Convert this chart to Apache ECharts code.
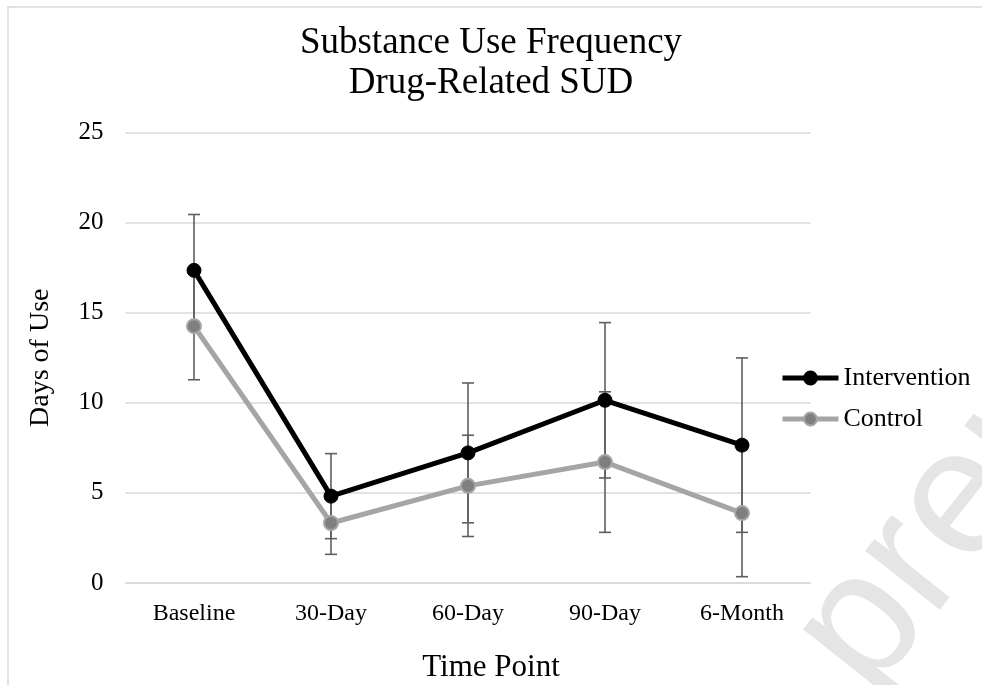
<!DOCTYPE html>
<html>
<head>
<meta charset="utf-8">
<title>Substance Use Frequency - Drug-Related SUD</title>
<script src="https://cdn.jsdelivr.net/npm/echarts@6/dist/echarts.min.js"></script>
<style>
  html, body { margin: 0; padding: 0; background: #ffffff; }
  #chart { width: 982px; height: 685px; }
</style>
</head>
<body>
<div id="chart"></div>
<script>
// Time points and mean days of use, with error bar half-widths
const timePoints = ['Baseline', '30-Day', '60-Day', '90-Day', '6-Month'];
const interventionMean = [17.35, 4.82, 7.22, 10.14, 7.65];
const interventionErr = [3.1, 2.36, 3.88, 4.31, 4.84];
const controlMean = [14.25, 3.33, 5.39, 6.71, 3.88];
const controlErr = [2.97, 1.74, 2.81, 3.9, 3.53];
const yTicks = [0, 5, 10, 15, 20, 25];

const serif = '"Liberation Serif", "DejaVu Serif", serif';

function errorData(means, errs) {
  return means.map((m, i) => [i, m, errs[i]]);
}

// Vertical whisker with caps, drawn through the axis scales
function renderErrorBar(params, api) {
  const i = api.value(0);
  const m = api.value(1);
  const e = api.value(2);
  const top = api.coord([i, m + e]);
  const bot = api.coord([i, m - e]);
  const half = 6;
  const style = { stroke: '#5f5f5f', lineWidth: 1.6 };
  return {
    type: 'group',
    children: [
      { type: 'line', shape: { x1: top[0], y1: top[1], x2: bot[0], y2: bot[1] }, style },
      { type: 'line', shape: { x1: top[0] - half, y1: top[1], x2: top[0] + half, y2: top[1] }, style },
      { type: 'line', shape: { x1: bot[0] - half, y1: bot[1], x2: bot[0] + half, y2: bot[1] }, style }
    ]
  };
}

const chart = echarts.init(document.getElementById('chart'), null, { renderer: 'canvas' });

chart.setOption({
  animation: false,
  backgroundColor: '#ffffff',
  title: {
    text: 'Substance Use Frequency\nDrug-Related SUD',
    left: 'center',
    top: 18,
    textStyle: {
      fontFamily: serif,
      fontSize: 37,
      fontWeight: 'normal',
      color: '#000000',
      lineHeight: 40
    }
  },
  graphic: [
    {
      type: 'rect',
      z: -10,
      shape: { x: 8, y: 7, width: 1100, height: 800 },
      style: { fill: 'none', stroke: '#d9d9d9', lineWidth: 1.5 }
    },
    {
      type: 'text',
      z: -20,
      x: 831,
      y: 667,
      rotation: 0.9,
      style: {
        text: 'preprint',
        font: '180px "Liberation Sans", sans-serif',
        fill: '#e5e5e5',
        textAlign: 'left',
        textVerticalAlign: 'middle'
      }
    },
    {
      type: 'text',
      left: 'center',
      top: 652,
      style: {
        text: 'Time Point',
        font: '31px "Liberation Serif", serif',
        fill: '#000000'
      }
    }
  ],
  legend: {
    orient: 'vertical',
    left: 775,
    top: 360,
    itemWidth: 56,
    itemHeight: 16,
    itemGap: 15,
    lineStyle: { width: 5 },
    textStyle: { fontFamily: serif, fontSize: 26, color: '#000000' },
    data: ['Intervention', 'Control']
  },
  grid: {
    left: 125.5, right: 171.5, top: 132.5, bottom: 102,
    containLabel: false,
    outerBoundsMode: 'none'
  },
  xAxis: {
    type: 'category',
    data: timePoints,
    boundaryGap: true,
    axisLine: { show: true, lineStyle: { color: '#d9d9d9', width: 1.5 } },
    axisTick: { show: false },
    axisLabel: { fontFamily: serif, fontSize: 24, color: '#000000', margin: 19 }
  },
  yAxis: {
    type: 'value',
    min: yTicks[0],
    max: yTicks[yTicks.length - 1],
    interval: 5,
    name: 'Days of Use',
    nameLocation: 'middle',
    nameGap: 71,
    nameTextStyle: { fontFamily: serif, fontSize: 28, color: '#000000' },
    axisLine: { show: false },
    axisTick: { show: false },
    splitLine: { lineStyle: { color: '#d9d9d9', width: 1.5 } },
    axisLabel: { fontFamily: serif, fontSize: 25, color: '#000000', margin: 22 }
  },
  series: [
    {
      name: 'Intervention errors',
      type: 'custom',
      renderItem: renderErrorBar,
      encode: { x: 0, y: 1 },
      data: errorData(interventionMean, interventionErr),
      z: 1,
      silent: true
    },
    {
      name: 'Control errors',
      type: 'custom',
      renderItem: renderErrorBar,
      encode: { x: 0, y: 1 },
      data: errorData(controlMean, controlErr),
      z: 1,
      silent: true
    },
    {
      name: 'Control',
      type: 'line',
      data: controlMean,
      z: 3,
      symbol: 'circle',
      symbolSize: 14,
      lineStyle: { color: '#a5a5a5', width: 5 },
      itemStyle: { color: '#7f7f7f', borderColor: '#a5a5a5', borderWidth: 2 }
    },
    {
      name: 'Intervention',
      type: 'line',
      data: interventionMean,
      z: 4,
      symbol: 'circle',
      symbolSize: 14,
      lineStyle: { color: '#000000', width: 5 },
      itemStyle: { color: '#000000', borderColor: '#000000', borderWidth: 1 }
    }
  ]
});
</script>
</body>
</html>
